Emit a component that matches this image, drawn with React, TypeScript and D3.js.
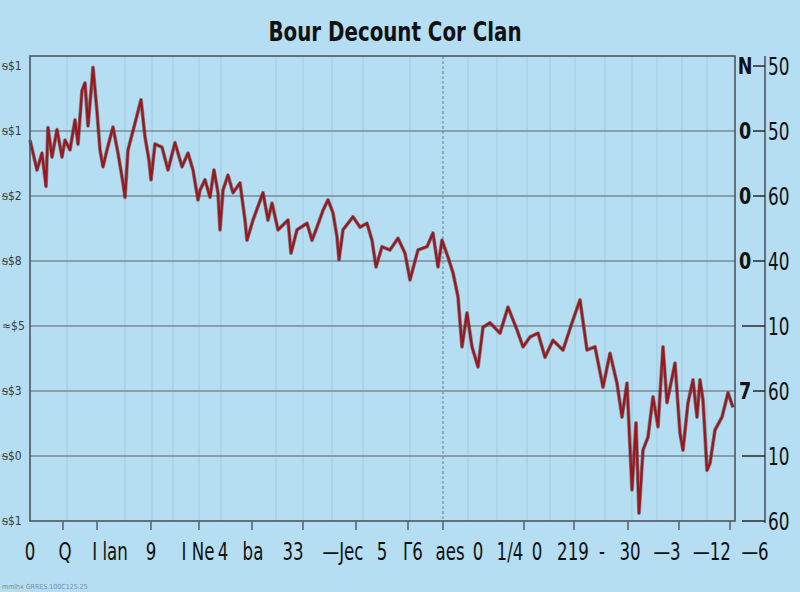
import React from "react";
import * as d3 from "d3";

const TITLE = "Bour Decount Cor Clan";

// series: time position (t) and value
const seriesT = [0,7,12,16,18,22,27,32,35,40,45,48,52,55,58,62,63,67,70,73,77,83,88,93,95,98,105,111,115,119,121,125,132,138,145,152,158,163,168,170,175,180,184,188,190,193,198,203,210,215,217,223,233,238,242,248,258,261,267,277,282,287,293,298,303,307,309,313,323,330,337,342,346,352,360,368,375,380,388,397,403,408,412,418,423,428,432,437,442,448,453,460,470,478,487,493,500,508,515,523,533,542,550,557,565,573,580,587,592,597,602,606,609,613,618,623,628,633,637,645,650,653,658,663,667,670,673,677,680,685,692,698,703];
const seriesV = [5.86,5.4,5.66,5.15,6.05,5.6,6.02,5.6,5.86,5.71,6.17,5.8,6.62,6.74,6.08,6.78,6.98,6.3,5.71,5.45,5.71,6.06,5.66,5.2,4.98,5.71,6.12,6.48,5.91,5.55,5.25,5.8,5.75,5.4,5.82,5.45,5.66,5.4,4.94,5.09,5.25,4.98,5.4,5.05,4.48,5.09,5.32,5.05,5.2,4.63,4.32,4.63,5.05,4.63,4.89,4.48,4.63,4.12,4.48,4.58,4.32,4.52,4.78,4.94,4.74,4.37,4.02,4.48,4.68,4.52,4.58,4.32,3.91,4.22,4.17,4.35,4.12,3.71,4.17,4.22,4.43,3.91,4.32,4.06,3.82,3.45,2.68,3.2,2.68,2.37,2.98,3.05,2.89,3.29,2.94,2.68,2.83,2.89,2.52,2.78,2.63,3.05,3.4,2.63,2.68,2.06,2.58,2.12,1.6,2.12,0.48,1.51,0.12,1.09,1.29,1.91,1.45,2.68,1.82,2.43,1.35,1.09,1.82,2.17,1.6,2.17,1.86,0.78,0.89,1.4,1.6,1.97,1.75];

const leftTickValues = [0,1,2,3,4,5,6,7];
const leftTickLabels = ["ᵴ$1","ᵴ$0","ᵴ$3","≈$5","ᵴ$8","ᵴ$2","ᵴ$1","ᵴ$1"];
const gridValues = [1,2,3,4,5,6];
const rightInnerLabels = ["", "", "7", "", "0", "0", "0", "N"];
const rightOuterLabels = ["60","10","60","10","40","60","50","50"];
const vGridT = [37,95,122,143,169,191,246,273,302,333,380,438,467,497,520,545,575,602,627,652,677];
const vGridDarkT = [413];
const xTickT = [33,67,121,169,222,273,326,378,413,494,544,598,649,700];
const xLabelT = [0,35,80,121,168,193,223,263,313,352,383,420,448,480,507,543,572,600,637,682,725];
const xLabels = ["0","Q","I lan","9","I Ne","4","ba","33","—Jec","5","Γ6","aes","0","1/4","0","219","-","30","—3","—12","—6"];

export default function App() {
  const W = 800, H = 592;
  const left = 30, right = 735, top = 56, bottom = 521;
  const x = d3.scaleLinear().domain([0, 705]).range([left, right]);
  const y = d3.scaleLinear().domain([0, 7.154]).range([bottom, top]);
  const pts = seriesT.map((t, i) => [x(t), y(seriesV[i])] as [number, number]);
  const line = d3.line().curve(d3.curveLinear)(pts) || "";
  const axisX = 765;
  const bg = "#b5def3";
  const font = "'DejaVu Sans Condensed', 'DejaVu Sans', sans-serif";
  return (
    <svg width={W} height={H} style={{ position: "absolute", left: 0, top: 0, display: "block" }}>
      <rect x={0} y={0} width={W} height={H} fill={bg} />
      <text x={395} y={41} textAnchor="middle" fontFamily={font} fontWeight="bold" fontSize={26} fill="#111" textLength={253} lengthAdjust="spacingAndGlyphs">{TITLE}</text>
      {vGridT.map((t, i) => (
        <line key={"vg" + i} x1={x(t)} x2={x(t)} y1={top} y2={bottom} stroke="#8fb3c8" strokeWidth={1} opacity={0.45} />
      ))}
      {vGridDarkT.map((t, i) => (
        <line key={"vd" + i} x1={x(t)} x2={x(t)} y1={top} y2={bottom} stroke="#6a7c88" strokeWidth={1} strokeDasharray="3,2" />
      ))}
      {gridValues.map((v, i) => (
        <line key={"hg" + i} x1={left} x2={right} y1={y(v)} y2={y(v)} stroke="#7b8a94" strokeWidth={1.6} />
      ))}
      <path d={line} fill="none" stroke="#3d3234" strokeWidth={3.8} strokeLinejoin="round" opacity={0.5} />
      <path d={line} fill="none" stroke="#9c161b" strokeWidth={2.3} strokeLinejoin="round" />
      <rect x={left} y={top} width={right - left} height={bottom - top} fill="none" stroke="#4c5660" strokeWidth={1.6} />
      {leftTickValues.map((v, i) => (
        <text key={"lt" + i} x={2} y={y(v) + 4} fontFamily={font} fontSize={12} fill="#3a3a3a">{leftTickLabels[i]}</text>
      ))}
      {xTickT.map((t, i) => (
        <line key={"xt" + i} x1={x(t)} x2={x(t)} y1={bottom} y2={bottom + 9} stroke="#55606a" strokeWidth={1.5} />
      ))}
      {xLabelT.map((t, i) => (
        <text key={"xl" + i} transform={`translate(${x(t)},560) scale(0.74,1)`} textAnchor="middle" fontFamily={font} fontSize={25} fill="#111">{xLabels[i]}</text>
      ))}
      <line x1={axisX} x2={axisX} y1={top} y2={bottom + 2} stroke="#4c5660" strokeWidth={1.6} />
      {leftTickValues.map((v, i) => (
        <g key={"r" + i}>
          <line x1={rightInnerLabels[i] ? 753 : 742} x2={axisX} y1={y(v)} y2={y(v)} stroke="#333" strokeWidth={1.6} />
          {rightInnerLabels[i] && (
            <text transform={`translate(745,${y(v) + 8}) scale(0.85,1)`} textAnchor="middle" fontFamily={font} fontWeight="bold" fontSize={23} fill="#111">{rightInnerLabels[i]}</text>
          )}
          <text transform={`translate(768,${y(v) + 9}) scale(0.78,1)`} fontFamily={font} fontSize={24} fill="#111">{rightOuterLabels[i]}</text>
        </g>
      ))}
      <text x={2} y={589} fontFamily={font} fontSize={7} fill="#556" opacity={0.6}>mmlhx GRRES.100C125.25</text>
    </svg>
  );
}
